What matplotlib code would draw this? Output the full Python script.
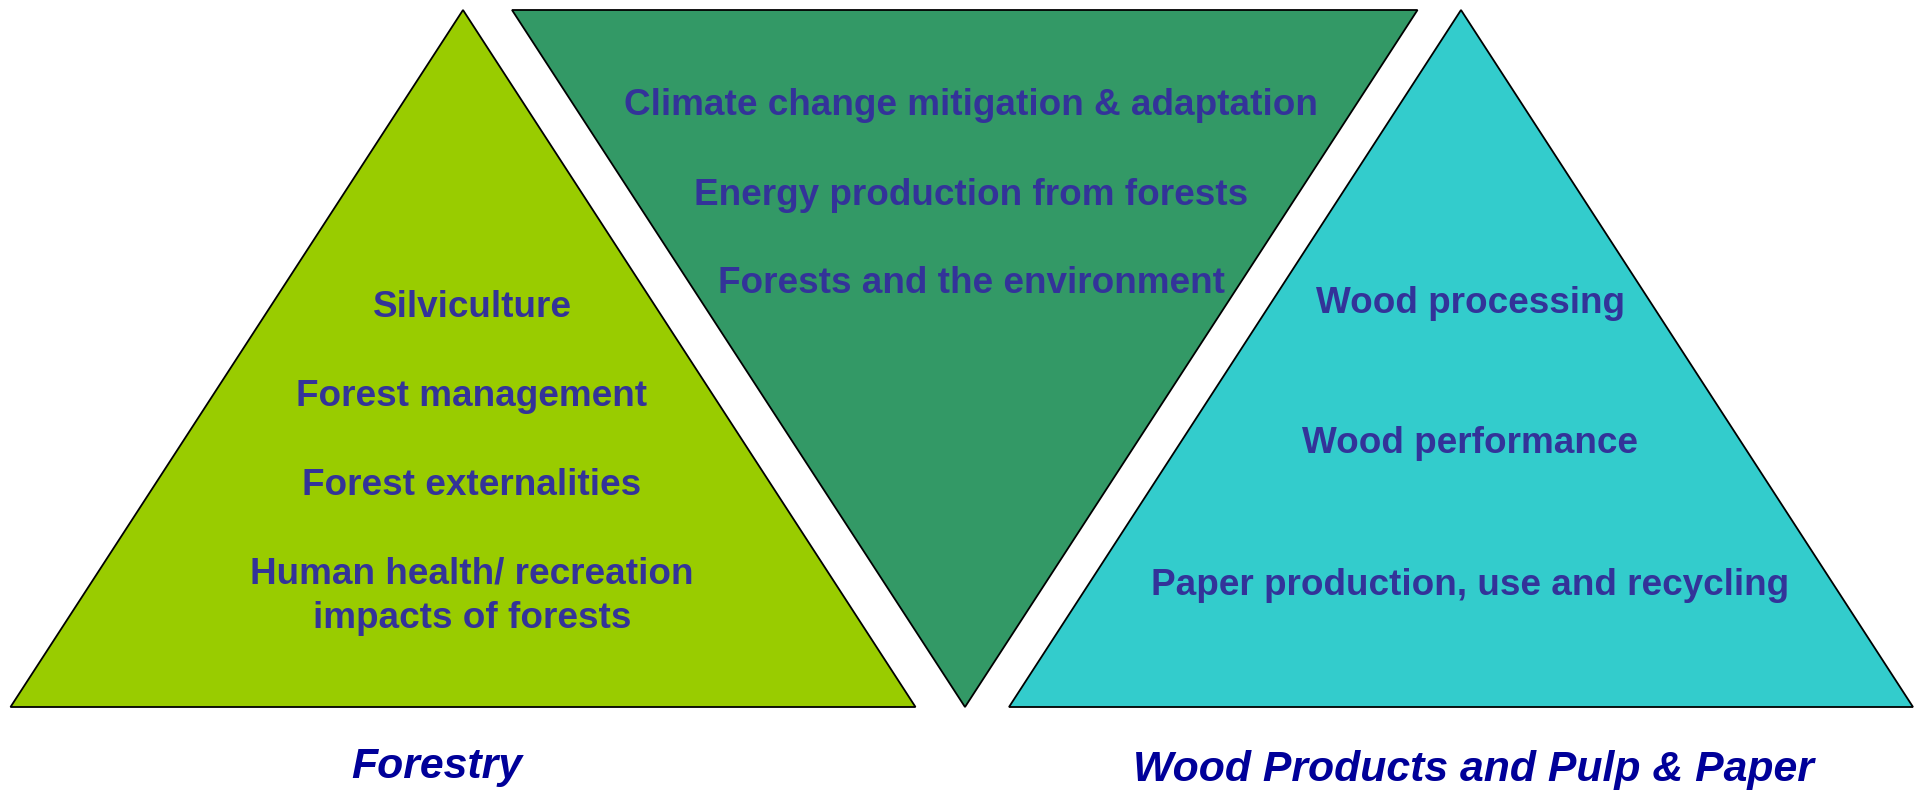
import matplotlib
matplotlib.use("Agg")
import matplotlib.pyplot as plt
from matplotlib.patches import Polygon

W, H = 1921, 790

# Triangle geometry (pixel coordinates, y downward)
forestry_tri = [(463, 10), (10.5, 707), (915.5, 707)]
middle_tri = [(512, 10), (1417.5, 10), (965, 707)]
wood_tri = [(1461, 10), (1009, 707), (1913, 707)]

tri_colors = ["#99CC00", "#339966", "#33CCCC"]

# Text contents
forestry_items = ["Silviculture", "Forest management", "Forest externalities",
                  "Human health/ recreation", "impacts of forests"]
middle_items = ["Climate change mitigation & adaptation",
                "Energy production from forests",
                "Forests and the environment"]
wood_items = ["Wood processing", "Wood performance",
              "Paper production, use and recycling"]

titles = ["Forestry", "Wood Products and Pulp & Paper"]

# Text positions (x centre, baselines)
forestry_x = 472
forestry_y = [317, 406, 495, 584, 628]
middle_x = 971
middle_y = [115, 205, 293]
wood_x = 1470
wood_y = [313, 453, 595]
title_x = [437, 1473]
title_y = [778, 781]

text_color = "#333399"
title_color = "#000099"

fig = plt.figure(figsize=(W / 100, H / 100), dpi=100)
ax = fig.add_axes([0, 0, 1, 1])
ax.set_xlim(0, W)
ax.set_ylim(H, 0)
ax.axis("off")

for verts, col in zip([forestry_tri, middle_tri, wood_tri], tri_colors):
    ax.add_patch(Polygon(verts, closed=True, facecolor=col,
                         edgecolor="black", linewidth=1.3, joinstyle="miter"))

font = "Liberation Sans"
fs_inner = 26.6

for txt, y in zip(forestry_items, forestry_y):
    ax.text(forestry_x, y, txt, ha="center", va="baseline", fontsize=fs_inner,
            fontweight="bold", family=font, color=text_color)
for txt, y in zip(middle_items, middle_y):
    ax.text(middle_x, y, txt, ha="center", va="baseline", fontsize=fs_inner,
            fontweight="bold", family=font, color=text_color)
for txt, y in zip(wood_items, wood_y):
    ax.text(wood_x, y, txt, ha="center", va="baseline", fontsize=fs_inner,
            fontweight="bold", family=font, color=text_color)

for txt, x, y in zip(titles, title_x, title_y):
    ax.text(x, y, txt, ha="center", va="baseline", fontsize=30.8,
            fontweight="bold", fontstyle="italic", family=font, color=title_color)

fig.savefig("out.png", dpi=100)
